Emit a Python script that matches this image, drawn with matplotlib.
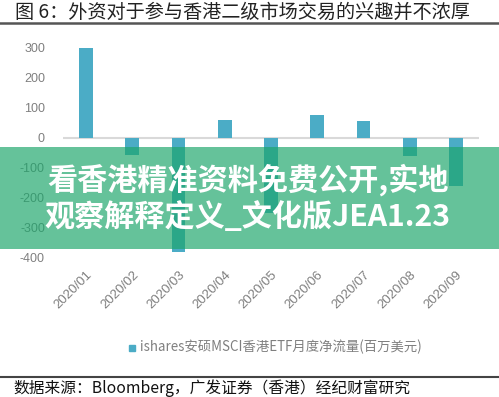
import matplotlib
matplotlib.use("Agg")
import matplotlib.pyplot as plt
from matplotlib.patches import Rectangle
from matplotlib.lines import Line2D

plt.rcParams['font.family'] = ['Noto Sans CJK SC', 'DejaVu Sans']

months = ["2020/01", "2020/02", "2020/03", "2020/04", "2020/05",
          "2020/06", "2020/07", "2020/08", "2020/09"]
flows = [300, -57, -380, 60, -250, 77, 57, -60, -160]
yticks = [-400, -300, -200, -100, 0, 100, 200, 300]

title = "图 6：外资对于参与香港二级市场交易的兴趣并不浓厚"
legend_label = "ishares安硕MSCI香港ETF月度净流量(百万美元)"
source = "数据来源：Bloomberg，广发证券（香港）经纪财富研究"
overlay_lines = ["看香港精准资料免费公开,实地", "观察解释定义_文化版JEA1.23"]

W, H = 499, 397
fig = plt.figure(figsize=(W / 100, H / 100), dpi=100)
fig.patch.set_facecolor("white")

def fx(px):
    return px / W

def fy(py):
    return 1 - py / H

ax = fig.add_axes([fx(63), fy(258), fx(479) - fx(63), fy(48) - fy(258)])
x = list(range(len(months)))
ax.bar(x, flows, width=0.3, color="#4bacc6", zorder=2)
ax.axhline(0, color="#d9d9d9", lw=1.5, zorder=1)
ax.set_xlim(-0.5, len(months) - 0.5)
ax.set_ylim(-400, 300)
ax.set_yticks(yticks)
ax.set_yticklabels([str(v) for v in yticks], family=['Liberation Sans'], fontsize=9, color="#7f7f7f")
ax.set_xticks(x)
ax.set_xticklabels(months, rotation=45, ha="right", rotation_mode="anchor",
                   family=['Liberation Sans'], fontsize=9.5, color="#7f7f7f")
ax.tick_params(axis="y", length=0, pad=13)
ax.tick_params(axis="x", length=0, pad=8)
for s in ax.spines.values():
    s.set_visible(False)
ax.set_facecolor("none")

# title
fig.text(fx(15), fy(12), title, fontsize=13.8, color="#222222", weight="medium",
         va="center", ha="left")
fig.add_artist(Line2D([0, 1], [fy(22.5), fy(22.5)], color="#555555", lw=1.8))

# legend
fig.patches.append(Rectangle((fx(129), fy(351)), fx(6), 6 / H, transform=fig.transFigure,
                             color="#4bacc6", figure=fig))
fig.text(fx(140), fy(347), legend_label, fontsize=9.6, color="#7f7f7f", va="center", ha="left")

# source
fig.add_artist(Line2D([0, 1], [fy(377), fy(377)], color="#444444", lw=1.5))
fig.text(fx(13), fy(388), source, fontsize=11.3, color="#111111", va="center", ha="left",
         style="italic")

# overlay banner
fig.patches.append(Rectangle((0, fy(249)), 1, fy(147) - fy(249), transform=fig.transFigure,
                             facecolor=(0.11, 0.65, 0.42), alpha=0.68, edgecolor="none",
                             zorder=10, figure=fig))
fig.text(fx(248), fy(180), overlay_lines[0], fontsize=21.7, color="white", weight="heavy",
         va="center", ha="center", zorder=11)
fig.text(fx(248), fy(217), overlay_lines[1], fontsize=21.7, color="white", weight="heavy",
         va="center", ha="center", zorder=11)

fig.savefig("out.png", dpi=100)
